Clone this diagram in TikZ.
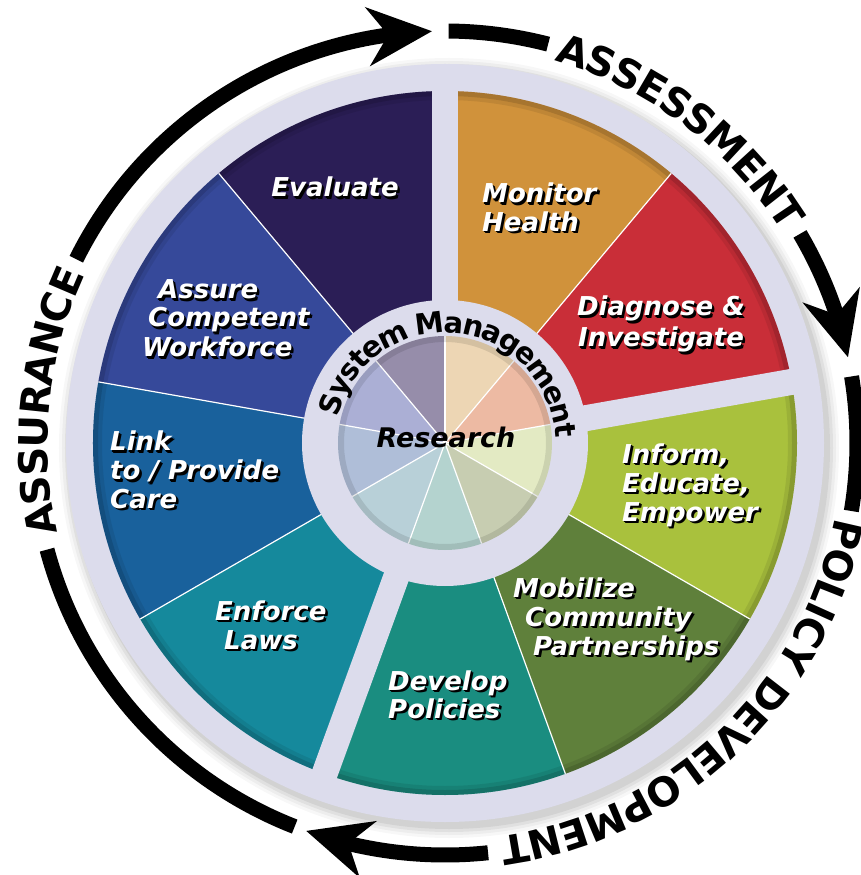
\documentclass[tikz,border=0pt]{standalone}
\usepackage{fontspec}
\setmainfont{DejaVu Sans}[BoldFont={DejaVu Sans Bold},ItalicFont={DejaVu Sans Oblique},BoldItalicFont={DejaVu Sans Bold Oblique}]
\usetikzlibrary{arrows.meta,bending,decorations.text}
\definecolor{lav}{HTML}{DCDCEC}
\definecolor{cEval}{HTML}{2B1E56}
\definecolor{cAssu}{HTML}{36499A}
\definecolor{cLink}{HTML}{19619C}
\definecolor{cEnfo}{HTML}{15899C}
\definecolor{cDeve}{HTML}{1A8D80}
\definecolor{cMobi}{HTML}{5F803B}
\definecolor{cInfo}{HTML}{A9C13D}
\definecolor{cDiag}{HTML}{C92E38}
\definecolor{cMoni}{HTML}{D0923B}
\definecolor{pEval}{HTML}{968DAA}
\definecolor{pAssu}{HTML}{ABAFD5}
\definecolor{pLink}{HTML}{AFBED8}
\definecolor{pEnfo}{HTML}{B8D0D8}
\definecolor{pDeve}{HTML}{B4D3CF}
\definecolor{pMobi}{HTML}{C7CDB1}
\definecolor{pInfo}{HTML}{E3EAC3}
\definecolor{pDiag}{HTML}{EDBAA3}
\definecolor{pMoni}{HTML}{EDD6B4}
\newcommand\arclab{\fontsize{40}{40}\selectfont\bfseries}
\newcommand\ringlab{\fontsize{29}{29}\selectfont\bfseries}
\tikzset{
  seglbl/.style={inner sep=0pt, font=\fontsize{26}{28}\selectfont\bfseries\itshape},
  arcband/.style={line width=15pt, draw=black},
  gapband/.style={line width=26pt, draw=lav},
  thinsep/.style={line width=1.2pt, draw=white},
  bighead/.style={-{Stealth[length=64pt,width=58pt,inset=20pt,flex]}},
}
\newcommand\seglab[5]{%
  \node[seglbl, anchor=#2, text=black] at (#3+2.4,#4+2.2) {#5};
  \node[seglbl, anchor=#2, text=black] at (#3+1.2,#4+1.2) {#5};
  \node[seglbl, anchor=#2, text=white] (#1) at (#3,#4) {#5};}
\begin{document}
\begin{tikzpicture}[x=1pt,y=1pt]
\useasboundingbox (-445,-432) rectangle (415,443);
\fill[white] (-445,-432) rectangle (415,443);
% shadow of the disk
\foreach \r/\o in {390/0.03, 387/0.04, 384/0.05, 381/0.06}
  \fill[black, opacity=\o] (4,-5) circle (\r);
\fill[lav] (0,0) circle (379);
% outer sectors
\foreach \a/\c in {50/cMoni, 10/cDiag, -30/cInfo, -70/cMobi, -110/cDeve, -150/cEnfo, 170/cLink, 130/cAssu, 90/cEval}{
  \fill[\c] (0,0) -- (\a:352) arc[start angle=\a, delta angle=40, radius=352] -- cycle;
  \begin{scope}
    \clip (0,0) -- (\a:352) arc[start angle=\a, delta angle=40, radius=352] -- cycle;
    \draw[black, opacity=0.12, line width=10pt] (0,0) circle (352);
    \draw[black, opacity=0.08, line width=18pt] (0,0) circle (352);
  \end{scope}}
\foreach \a in {50,-30,-70,-150,170,130}
  \draw[thinsep] (\a:140) -- (\a:352);
\foreach \a in {90,10,-110}
  \draw[gapband] (\a:120) -- (\a:362);
% ring and inner pie
\fill[lav] (0,0) circle (143);
\foreach \a/\c in {50/pMoni, 10/pDiag, -30/pInfo, -70/pMobi, -110/pDeve, -150/pEnfo, 170/pLink, 130/pAssu, 90/pEval}
  \fill[\c] (0,0) -- (\a:107) arc[start angle=\a, delta angle=40, radius=107] -- cycle;
\foreach \a in {90,50,10,-30,-70,-110,-150,170,130}
  \draw[thinsep] (0,0) -- (\a:107);
\draw[black, opacity=0.10, line width=6pt] (0,0) circle (104);
% ring text
\path[decorate, decoration={text along path, text align=center, raise=-10.5pt,
  text={|\ringlab|System Management}}] (176:121) arc[start angle=176, end angle=-7, radius=121];
\node[font=\fontsize{27}{27}\selectfont\bfseries\itshape, anchor=base, inner sep=0pt] (research) at (1,-5) {Research};
% segment labels (image coordinates)
\begin{scope}[shift={(-445,443)}, yscale=-1]
\seglab{evaluate}{base}{335}{197}{Evaluate}
\seglab{monitorA}{base west}{482}{203}{Monitor}
\seglab{monitorB}{base west}{482}{231.5}{Health}
\seglab{diagA}{base}{661}{316}{Diagnose \&}
\seglab{diagB}{base}{661}{347}{Investigate}
\seglab{infoA}{base west}{622}{463}{Inform,}
\seglab{infoB}{base west}{622}{492}{Educate,}
\seglab{infoC}{base west}{622}{521}{Empower}
\seglab{mobiA}{base west}{513}{597}{Mobilize}
\seglab{mobiB}{base west}{525}{626}{Community}
\seglab{mobiC}{base west}{533}{655}{Partnerships}
\seglab{deveA}{base west}{388}{690}{Develop}
\seglab{deveB}{base west}{388}{718}{Policies}
\seglab{enfoA}{base west}{215}{620}{Enforce}
\seglab{enfoB}{base west}{224}{649}{Laws}
\seglab{linkA}{base west}{110}{451}{Link}
\seglab{linkB}{base west}{110}{480}{to / Provide}
\seglab{linkC}{base west}{110}{508}{Care}
\seglab{assuA}{base west}{158}{299}{Assure}
\seglab{assuB}{base west}{148}{327}{Competent}
\seglab{assuC}{base west}{142}{357}{Workforce}
\end{scope}
% outer cycle arrows
\draw[arcband] (89.5:412) arc[start angle=89.5, end angle=75.5, radius=412];
\path[decorate, decoration={text along path, text align=center, raise=-14.6pt,
  text={|\arclab|ASSESSMENT}}] (78:412) arc[start angle=78, end angle=28, radius=412];
\draw[arcband, bighead] (30.5:412) arc[start angle=30.5, end angle=12, radius=412];
\draw[arcband] (9.3:412) arc[start angle=9.3, end angle=-9.5, radius=412];
\path[decorate, decoration={text along path, text align=center, raise=-14.6pt,
  text={|\arclab|POLICY DEVELOPMENT}}] (-6:412) arc[start angle=-6, end angle=-87, radius=412];
\draw[arcband, bighead] (-84:412) arc[start angle=-84, end angle=-109.7, radius=412];
\draw[arcband] (248.6:412) arc[start angle=248.6, end angle=195, radius=412];
\path[decorate, decoration={text along path, text align=center, raise=-14.6pt,
  text={|\arclab|ASSURANCE}}] (200:412) arc[start angle=200, end angle=148, radius=412];
\draw[arcband, bighead] (153.5:412) arc[start angle=153.5, end angle=91.8, radius=412];
\end{tikzpicture}
\end{document}
